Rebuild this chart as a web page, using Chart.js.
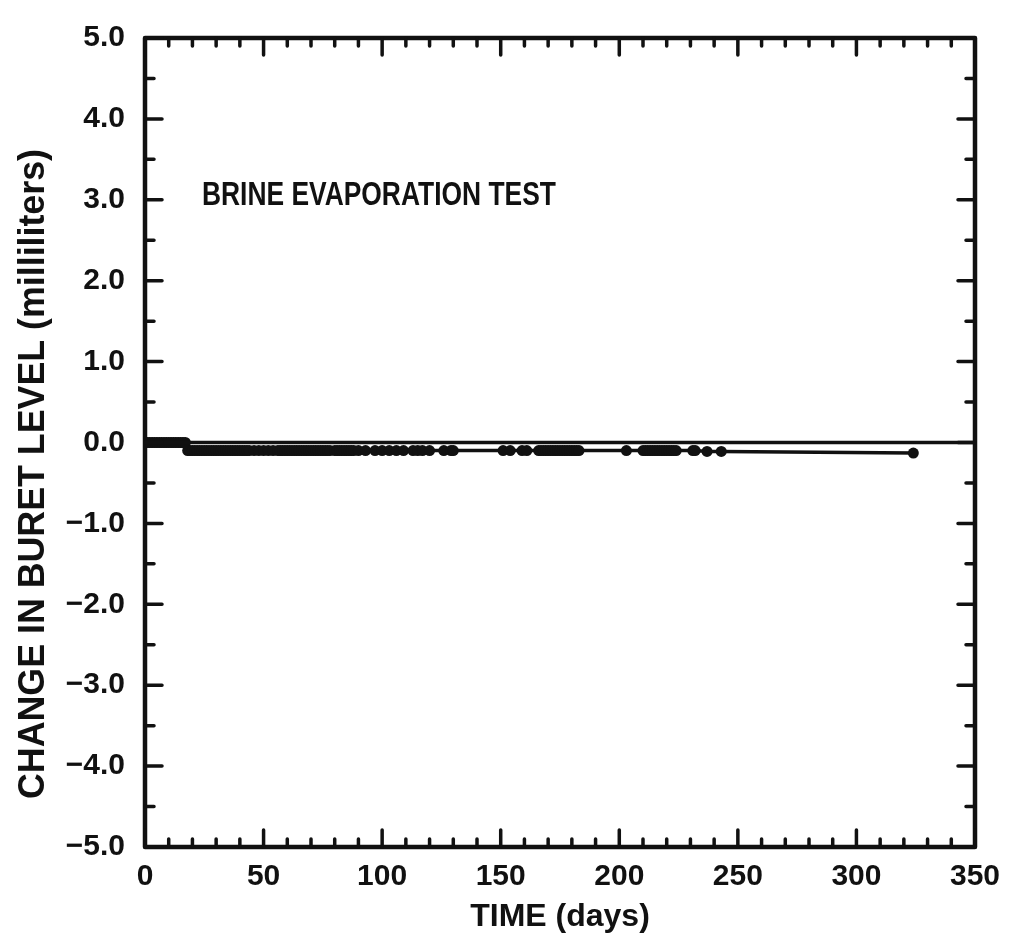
<!DOCTYPE html>
<html>
<head>
<meta charset="utf-8">
<title>Brine Evaporation Test</title>
<script src="https://cdn.jsdelivr.net/npm/chart.js@4.4.1/dist/chart.umd.min.js"></script>
<style>
  html, body { margin: 0; padding: 0; background: #fff; }
  canvas { display: block; }
</style>
</head>
<body>
<canvas id="buretChart" width="1013" height="948"></canvas>
<script>
// Reference line at zero
var zeroDays = [0, 350];
var zeroLevel = [0.0, 0.0];

// Buret readings (days, ml)
var days = [
    0, 1, 2, 3, 4, 5, 6, 7, 8, 9, 10, 11, 12, 13, 14, 15, 16, 17,
    18, 19, 20, 21, 22, 23, 24, 25, 26, 27, 28, 29, 30, 31, 32, 33, 34, 35, 36, 37, 38, 39, 40, 41, 42, 43, 44,
    46, 48, 50, 52, 54,
    56, 57, 58, 59, 60, 61, 62, 63, 64, 65, 66, 67, 68, 69, 70, 71, 72, 73, 74, 75, 76, 77, 78,
    80, 81, 82, 83, 84, 85, 86, 87, 88, 90,
    93, 97, 100, 103, 106, 109, 113, 115, 117, 120, 126, 129, 130,
    151, 154, 159, 161,
    166, 167, 168, 169, 170, 171, 172, 173, 174, 175, 176, 177, 178, 179, 180, 181, 182, 183,
    203,
    210, 211, 212, 213, 214, 215, 216, 217, 218, 219, 220, 221, 222, 223, 224,
    231, 232, 237, 243,
    324
];
var level = [
    0.0, 0.0, 0.0, 0.0, 0.0, 0.0, 0.0, 0.0, 0.0, 0.0, 0.0, 0.0, 0.0, 0.0, 0.0, 0.0, 0.0, 0.0,
    -0.1, -0.1, -0.1, -0.1, -0.1, -0.1, -0.1, -0.1, -0.1, -0.1, -0.1, -0.1, -0.1, -0.1, -0.1, -0.1, -0.1, -0.1, -0.1, -0.1, -0.1, -0.1, -0.1, -0.1, -0.1, -0.1, -0.1,
    -0.1, -0.1, -0.1, -0.1, -0.1,
    -0.1, -0.1, -0.1, -0.1, -0.1, -0.1, -0.1, -0.1, -0.1, -0.1, -0.1, -0.1, -0.1, -0.1, -0.1, -0.1, -0.1, -0.1, -0.1, -0.1, -0.1, -0.1, -0.1,
    -0.1, -0.1, -0.1, -0.1, -0.1, -0.1, -0.1, -0.1, -0.1, -0.1,
    -0.1, -0.1, -0.1, -0.1, -0.1, -0.1, -0.1, -0.1, -0.1, -0.1, -0.1, -0.1, -0.1,
    -0.1, -0.1, -0.1, -0.1,
    -0.1, -0.1, -0.1, -0.1, -0.1, -0.1, -0.1, -0.1, -0.1, -0.1, -0.1, -0.1, -0.1, -0.1, -0.1, -0.1, -0.1, -0.1,
    -0.1,
    -0.1, -0.1, -0.1, -0.1, -0.1, -0.1, -0.1, -0.1, -0.1, -0.1, -0.1, -0.1, -0.1, -0.1, -0.1,
    -0.1, -0.1, -0.11, -0.11,
    -0.13
];

var xRange = [0, 350];
var yRange = [-5, 5];
var xTickLabels = [0, 50, 100, 150, 200, 250, 300, 350];
var yTickLabels = [-5, -4, -3, -2, -1, 0, 1, 2, 3, 4, 5];

(function() {
    'use strict';

    var ink = '#111111';
    var sans = "'Liberation Sans', Arial, Helvetica, sans-serif";

    function fmtLevel(v) {
        var s = Math.abs(v).toFixed(1);
        return v < 0 ? '\u2212' + s : s;
    }

    // condensed bold text: squeeze horizontally to a target width
    function squeezedText(ctx, text, x, y, size, width) {
        ctx.font = 'bold ' + size + 'px ' + sans;
        var w = ctx.measureText(text).width;
        ctx.save();
        ctx.translate(x, y);
        ctx.scale(width / w, 1);
        ctx.fillText(text, 0, 0);
        ctx.restore();
    }

    // Frame, inward ticks on all four sides, annotation and y title
    var framePlugin = {
        id: 'frame',
        afterDatasetsDraw: function(chart) {
            var ctx = chart.ctx;
            var a = chart.chartArea;
            var xs = chart.scales.x;
            var ys = chart.scales.y;

            ctx.save();
            ctx.strokeStyle = ink;
            ctx.lineWidth = 4.5;
            ctx.lineJoin = 'round';
            ctx.strokeRect(a.left, a.top, a.right - a.left, a.bottom - a.top);

            ctx.lineWidth = 3.5;
            ctx.lineCap = 'round';
            ctx.beginPath();
            xs.ticks.forEach(function(t) {
                var px = xs.getPixelForValue(t.value);
                var len = xTickLabels.indexOf(t.value) >= 0 ? 17 : 8;
                ctx.moveTo(px, a.bottom); ctx.lineTo(px, a.bottom - len);
                ctx.moveTo(px, a.top); ctx.lineTo(px, a.top + len);
            });
            ys.ticks.forEach(function(t) {
                var py = ys.getPixelForValue(t.value);
                var len = yTickLabels.indexOf(t.value) >= 0 ? 17 : 9;
                ctx.moveTo(a.left, py); ctx.lineTo(a.left + len, py);
                ctx.moveTo(a.right, py); ctx.lineTo(a.right - len, py);
            });
            ctx.stroke();

            // annotation
            ctx.fillStyle = ink;
            ctx.textAlign = 'left';
            ctx.textBaseline = 'alphabetic';
            squeezedText(ctx, 'BRINE EVAPORATION TEST',
                xs.getPixelForValue(24), ys.getPixelForValue(2.94), 34, 354);

            // y axis title, centred on the page height
            ctx.translate(34, chart.height / 2);
            ctx.rotate(-Math.PI / 2);
            ctx.textAlign = 'left';
            ctx.textBaseline = 'middle';
            squeezedText(ctx, 'CHANGE IN BURET LEVEL (milliliters)', -325, 0, 37, 650);
            ctx.restore();
        }
    };

    function initChart() {
        var el = document.getElementById('buretChart');
        if (typeof Chart === 'undefined') {
            console.error('Chart.js is not loaded!');
            return;
        }

        new Chart(el, {
            type: 'line',
            data: {
                datasets: [{
                    label: 'zero',
                    data: zeroDays.map(function(d, i) { return { x: d, y: zeroLevel[i] }; }),
                    borderColor: ink,
                    borderWidth: 3.5,
                    pointRadius: 0,
                    fill: false
                }, {
                    label: 'buret',
                    data: days.map(function(d, i) { return { x: d, y: level[i] }; }),
                    borderColor: ink,
                    borderWidth: 3.5,
                    pointRadius: 5.5,
                    pointBackgroundColor: ink,
                    pointBorderColor: ink,
                    pointBorderWidth: 0,
                    tension: 0,
                    fill: false
                }]
            },
            options: {
                responsive: false,
                animation: false,
                layout: { padding: { left: 0, right: 38, top: 23, bottom: 0 } },
                plugins: {
                    legend: { display: false },
                    tooltip: { enabled: false }
                },
                scales: {
                    x: {
                        type: 'linear',
                        position: 'bottom',
                        min: xRange[0],
                        max: xRange[1],
                        afterFit: function(s) { s.height = 101; },
                        grid: { display: false, drawTicks: false },
                        border: { display: false },
                        ticks: {
                            stepSize: 10,
                            autoSkip: false,
                            maxRotation: 0,
                            padding: 12,
                            color: ink,
                            font: { family: sans, size: 30, weight: 'bold' },
                            callback: function(v) { return xTickLabels.indexOf(v) >= 0 ? String(v) : ''; }
                        },
                        title: {
                            display: true,
                            text: 'TIME (days)',
                            color: ink,
                            font: { family: sans, size: 32, weight: 'bold' },
                            padding: { top: 0, bottom: 12 }
                        }
                    },
                    y: {
                        type: 'linear',
                        min: yRange[0],
                        max: yRange[1],
                        afterFit: function(s) { s.width = 145; },
                        grid: { display: false, drawTicks: false },
                        border: { display: false },
                        ticks: {
                            stepSize: 0.5,
                            autoSkip: false,
                            padding: 20,
                            color: ink,
                            font: { family: sans, size: 30, weight: 'bold' },
                            callback: function(v) { return yTickLabels.indexOf(v) >= 0 ? fmtLevel(v) : ''; }
                        }
                    }
                }
            },
            plugins: [framePlugin]
        });
    }

    document.addEventListener('DOMContentLoaded', initChart);
})();
</script>
</body>
</html>
